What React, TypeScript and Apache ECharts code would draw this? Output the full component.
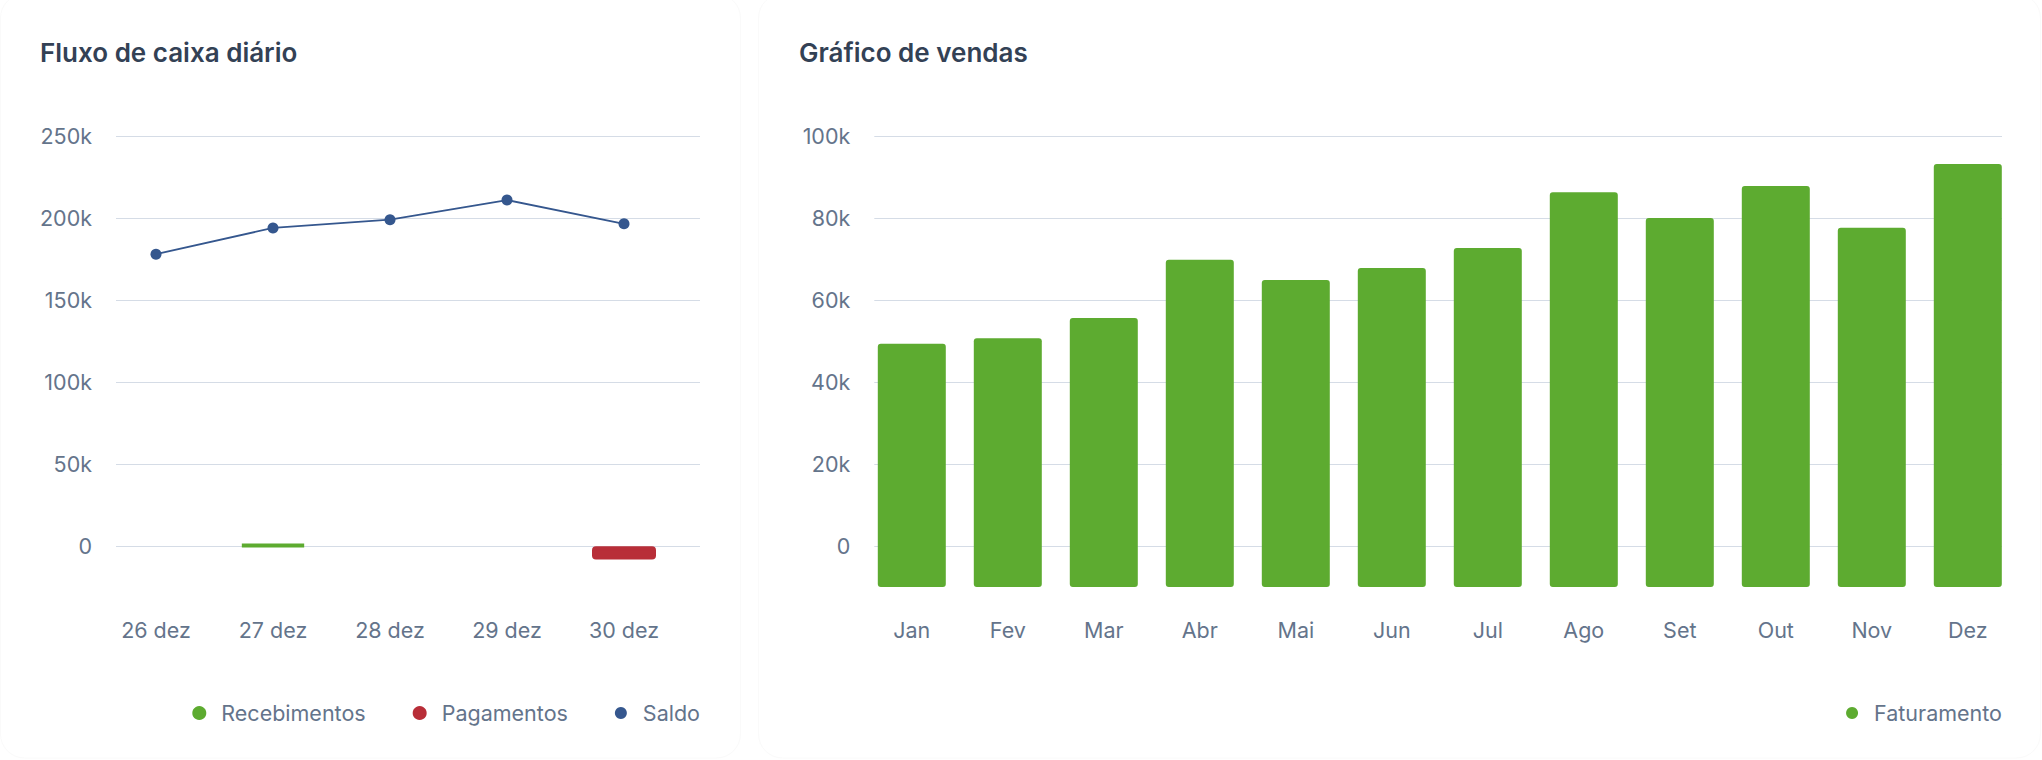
import React, { useEffect, useRef } from 'react';
import * as echarts from 'echarts';

// ---- Data: Fluxo de caixa diário ----
const fluxoDias = ['26 dez', '27 dez', '28 dez', '29 dez', '30 dez'];
const recebimentos: (number | null)[] = [null, 1000, null, null, null];
const pagamentos: (number | null)[] = [null, null, null, null, -8000];
const saldo = [178000, 194000, 199000, 211000, 196500];
const fluxoAxisMin = -25000;
const fluxoTickMin = 0;
const fluxoTickMax = 250000;
const fluxoTickStep = 50000;

// ---- Data: Gráfico de vendas ----
const meses = ['Jan', 'Fev', 'Mar', 'Abr', 'Mai', 'Jun', 'Jul', 'Ago', 'Set', 'Out', 'Nov', 'Dez'];
const faturamento = [49300, 50700, 55600, 69800, 64900, 67800, 72700, 86300, 80000, 87800, 77600, 93200];
const vendasAxisMin = -10000;
const vendasTickMin = 0;
const vendasTickMax = 100000;
const vendasTickStep = 20000;

// ---- Styles ----
const FONT = 'Inter, "Noto Sans", "DejaVu Sans", sans-serif';
const GRAY = '#64748b';
const GRID_COLOR = '#d5dce6';
const TITLE_COLOR = '#334155';
const GREEN = '#5dab30';
const RED = '#b82e38';
const BLUE = '#35578e';
const CARD_STROKE = '#fafafa';
const LABEL_SIZE = 21.5;
const BAR_W = 68;

const kFormatter = (v: number) => (v === 0 ? '0' : `${v / 1000}k`);

const labelStyle = { fontFamily: FONT, fontSize: LABEL_SIZE, color: GRAY };
const titleStyle = { fontFamily: FONT, fontSize: 26, fontWeight: 600, color: TITLE_COLOR };

const legendBase = {
  orient: 'horizontal',
  icon: 'circle',
  itemWidth: 34,
  itemHeight: 12,
  itemGap: 47,
  padding: 0,
  top: 702,
  selectedMode: false,
  textStyle: { fontFamily: FONT, fontSize: LABEL_SIZE, color: GRAY },
};

const gridAxisY = (min: number, max: number, interval: number, gridIndex: number) => ({
  gridIndex,
  type: 'value',
  min,
  max,
  interval,
  axisLine: { show: false },
  axisTick: { show: false },
  splitLine: { show: true, lineStyle: { color: GRID_COLOR, width: 1 } },
  axisLabel: { ...labelStyle, margin: 24, padding: [5, 0, 0, 0], formatter: kFormatter },
});

const catAxis = (data: string[], gridIndex: number) => ({
  gridIndex,
  type: 'category',
  data,
  axisLine: { show: false },
  axisTick: { show: false },
  splitLine: { show: false },
  axisLabel: { ...labelStyle, margin: 32, interval: 0 },
});

export default function App() {
  const ref = useRef<HTMLDivElement>(null);

  useEffect(() => {
    document.body.style.margin = '0';
    if (!ref.current) return;
    const chart = echarts.init(ref.current, null, { renderer: 'svg' });

    const option: any = {
      animation: false,
      backgroundColor: '#ffffff',
      textStyle: { fontFamily: FONT },
      title: [
        { text: 'Fluxo de caixa diário', left: 40, top: 39.5, padding: 0, textStyle: titleStyle },
        { text: 'Gráfico de vendas', left: 799, top: 39.5, padding: 0, textStyle: titleStyle },
      ],
      legend: [
        { ...legendBase, data: ['Recebimentos', 'Pagamentos', 'Saldo'], right: 1342 },
        { ...legendBase, data: ['Faturamento'], right: 40 },
      ],
      graphic: [
        {
          type: 'rect',
          silent: true,
          z: -10,
          shape: { x: 0.5, y: -6, width: 740, height: 764, r: 24 },
          style: { fill: 'none', stroke: CARD_STROKE, lineWidth: 1 },
        },
        {
          type: 'rect',
          silent: true,
          z: -10,
          shape: { x: 758.5, y: -6, width: 1282, height: 764, r: 24 },
          style: { fill: 'none', stroke: CARD_STROKE, lineWidth: 1 },
        },
      ],
      grid: [
        { left: 97.5, top: 136, width: 585, height: 451.4, containLabel: false, outerBoundsMode: 'none' },
        { left: 116, top: 136, width: 584, height: 410.3, containLabel: false, outerBoundsMode: 'none' },
        { left: 863.8, top: 136, width: 1152, height: 451, containLabel: false, outerBoundsMode: 'none' },
        { left: 874.3, top: 136, width: 1127.7, height: 410, containLabel: false, outerBoundsMode: 'none' },
      ],
      xAxis: [
        catAxis(fluxoDias, 0),
        { gridIndex: 1, type: 'value', show: false },
        catAxis(meses, 2),
        { gridIndex: 3, type: 'value', show: false },
      ],
      yAxis: [
        { gridIndex: 0, type: 'value', min: fluxoAxisMin, max: fluxoTickMax, show: false },
        gridAxisY(fluxoTickMin, fluxoTickMax, fluxoTickStep, 1),
        { gridIndex: 2, type: 'value', min: vendasAxisMin, max: vendasTickMax, show: false },
        gridAxisY(vendasTickMin, vendasTickMax, vendasTickStep, 3),
      ],
      series: [
        {
          name: 'Recebimentos',
          type: 'bar',
          xAxisIndex: 0,
          yAxisIndex: 0,
          stack: 'fluxo',
          barWidth: BAR_W - 4,
          data: recebimentos,
          itemStyle: { color: GREEN, borderColor: GREEN, borderWidth: 4, borderRadius: 2 },
          z: 3,
        },
        {
          name: 'Pagamentos',
          type: 'bar',
          xAxisIndex: 0,
          yAxisIndex: 0,
          stack: 'fluxo',
          barWidth: BAR_W - 4,
          data: pagamentos,
          itemStyle: { color: RED, borderColor: RED, borderWidth: 4, borderRadius: 2 },
          z: 3,
        },
        {
          name: 'Saldo',
          type: 'line',
          xAxisIndex: 0,
          yAxisIndex: 0,
          data: saldo,
          symbol: 'circle',
          symbolSize: 11,
          showSymbol: true,
          lineStyle: { color: BLUE, width: 1.8 },
          itemStyle: { color: BLUE },
          z: 5,
        },
        {
          name: 'Faturamento',
          type: 'custom',
          xAxisIndex: 2,
          yAxisIndex: 2,
          itemStyle: { color: GREEN },
          encode: { x: 0, y: 1 },
          data: faturamento.map((v, i) => [i, v]),
          renderItem: (_params: any, api: any) => {
            const idx = api.value(0);
            const top = api.coord([idx, api.value(1)]);
            const base = api.coord([idx, vendasAxisMin]);
            return {
              type: 'rect',
              shape: { x: top[0] - BAR_W / 2, y: top[1], width: BAR_W, height: base[1] - top[1], r: 3 },
              style: { fill: api.visual('color') },
            };
          },
          z: 3,
        },
      ],
    };

    chart.setOption(option);
    return () => chart.dispose();
  }, []);

  return <div ref={ref} style={{ width: 2042, height: 760 }} />;
}
